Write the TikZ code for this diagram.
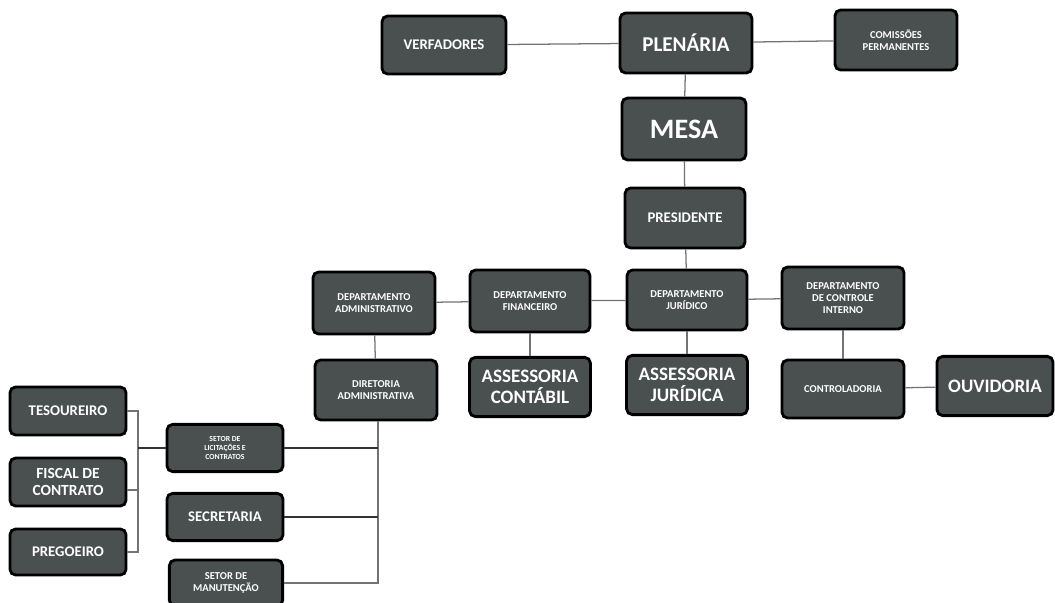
\documentclass[tikz,border=0pt]{standalone}
\usepackage{fontspec}
\setmainfont{Carlito}
\usetikzlibrary{positioning}
\definecolor{boxgray}{HTML}{4A4F4F}
\tikzset
{
    orgbox/.style   = {rectangle, rounded corners=4pt, draw=black, line width=2pt, fill=boxgray, text=white, align=center, inner sep=1pt, minimum width=3.05cm, minimum height=1.5cm, font=\bfseries\fontsize{7.5}{8.5}\selectfont},
    midbox/.style   = {orgbox, font=\bfseries\fontsize{10.5}{12}\selectfont},
    bigbox/.style   = {orgbox, font=\bfseries\fontsize{13.5}{15}\selectfont},
    sidebox/.style  = {orgbox, minimum width=2.9cm, minimum height=1.2cm},
    link/.style     = {draw=black!55, line width=0.9pt},
    darklink/.style = {draw=black!80, line width=1pt}
}

\begin{document}
\begin{tikzpicture}[x=0.025cm, y=-0.025cm]
   \useasboundingbox (0,0) rectangle (1055,603);

   \node (vere)  [midbox, minimum width=3.1cm, minimum height=1.45cm] at (444, 45)  {VERFADORES};
   \node (plen)  [bigbox, minimum width=3.3cm, font=\bfseries\fontsize{15}{17}\selectfont] at (686, 43) {PLENÁRIA};
   \node (comis) [orgbox] at (896, 40)  {COMISSÕES\\PERMANENTES};
   \node (mesa)  [bigbox, minimum width=3.1cm, minimum height=1.55cm, font=\bfseries\fontsize{20}{22}\selectfont] at (684, 129) {MESA};
   \node (pres)  [midbox, minimum width=3cm] at (685, 218) {PRESIDENTE};

   \node (dadm)  [orgbox, minimum height=1.55cm] at (374, 303) {DEPARTAMENTO\\ADMINISTRATIVO};
   \node (dfin)  [orgbox, minimum width=3cm, minimum height=1.55cm] at (530, 301) {DEPARTAMENTO\\FINANCEIRO};
   \node (djur)  [orgbox, minimum width=3cm] at (687, 300) {DEPARTAMENTO\\JURÍDICO};
   \node (dctl)  [orgbox, minimum height=1.55cm] at (843, 298) {DEPARTAMENTO\\DE CONTROLE\\INTERNO};

   \node (dira)  [orgbox] at (376, 390) {DIRETORIA\\ADMINISTRATIVA};
   \node (acon)  [bigbox, minimum width=3.02cm, minimum height=1.48cm] at (530, 387) {ASSESSORIA\\CONTÁBIL};
   \node (ajur)  [bigbox, minimum width=3.02cm, minimum height=1.48cm] at (687, 385) {ASSESSORIA\\JURÍDICA};
   \node (ctrl)  [orgbox, minimum height=1.45cm] at (843, 389) {CONTROLADORIA};
   \node (ouvi)  [bigbox, minimum width=2.9cm, minimum height=1.48cm] at (995, 386) {OUVIDORIA};

   \node (teso)  [sidebox, font=\bfseries\fontsize{10.5}{12}\selectfont] at (68, 411) {TESOUREIRO};
   \node (fisc)  [sidebox, font=\bfseries\fontsize{11}{12.5}\selectfont] at (68, 482) {FISCAL DE\\CONTRATO};
   \node (preg)  [sidebox, minimum height=1.15cm, font=\bfseries\fontsize{10.5}{12}\selectfont] at (68, 552) {PREGOEIRO};

   \node (slic)  [sidebox, minimum height=1.18cm, font=\bfseries\fontsize{5.5}{6.5}\selectfont] at (225, 448) {SETOR DE\\LICITAÇÕES E\\CONTRATOS};
   \node (secr)  [sidebox, minimum height=1.18cm, font=\bfseries\fontsize{10.5}{12}\selectfont] at (225, 517) {SECRETARIA};
   \node (sman)  [sidebox, minimum width=2.83cm, minimum height=1.15cm] at (226, 583) {SETOR DE\\MANUTENÇÃO};

   % junction points
   \coordinate (bl) at (138, 448);
   \coordinate (br) at (378, 448);

   \path[link]
      (vere) edge (plen)
      (plen) edge (comis)
      (plen) edge (mesa)
      (mesa) edge (pres)
      (pres) edge (djur)
      (dadm) edge (dfin)
      (dfin) edge (djur)
      (djur) edge (dctl)
      (dadm) edge (dira)
      (dfin) edge (acon)
      (djur) edge (ajur)
      (dctl) edge (ctrl)
      (ctrl) edge (ouvi);

   % right comb down from the diretoria
   \draw[link] (dira.south -| br) -- (br |- sman.east) -- (sman.east);
   \draw[darklink] (slic.east) -- (br);
   \draw[darklink] (secr.east) -- (secr.east -| br);

   % left bracket
   \draw[link] (teso.east) -- (teso.east -| bl) -- (bl |- preg.east) -- (preg.east);
   \draw[link] ([yshift=-0.2cm]fisc.east) -- ([yshift=-0.2cm]fisc.east -| bl);
   \draw[darklink] (bl) -- (slic.west);
\end{tikzpicture}
\end{document}
